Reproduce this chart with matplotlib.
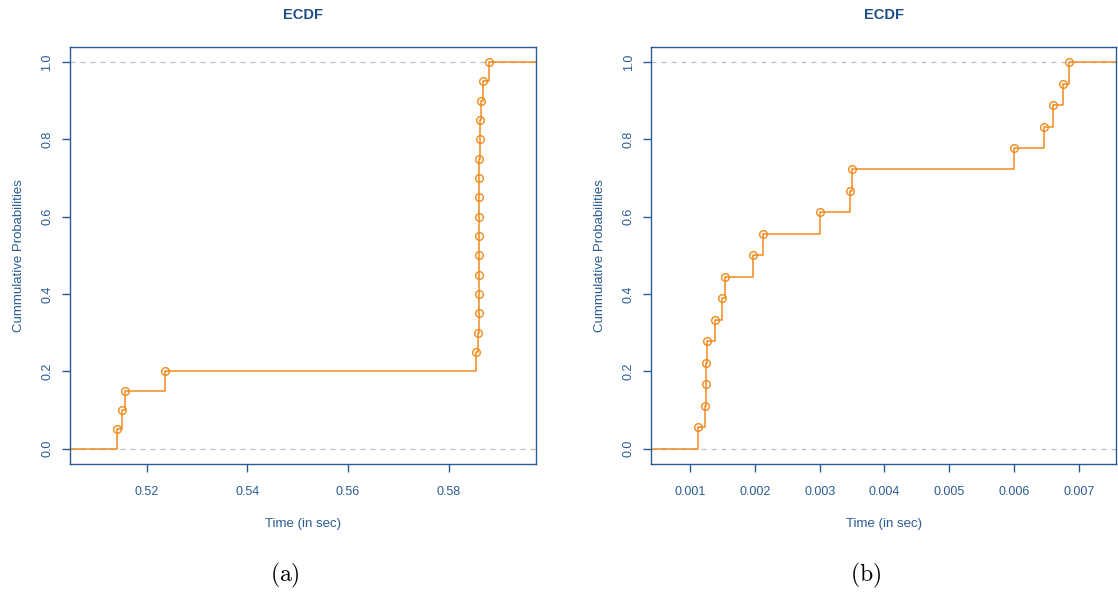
import numpy as np
import matplotlib.pyplot as plt

plt.rcParams['font.family'] = ['Liberation Sans', 'DejaVu Sans']
plt.rcParams['mathtext.fontset'] = 'cm'

# (a) observed times in seconds, 20 runs
times_a = [0.51405, 0.51496, 0.51556, 0.52352, 0.58551, 0.58591, 0.58595,
           0.58597, 0.58599, 0.58603, 0.58603, 0.58607, 0.58607, 0.58611,
           0.58611, 0.58617, 0.58623, 0.58637, 0.58683, 0.58802]
xticks_a = [0.52, 0.54, 0.56, 0.58]

# (b) observed times in seconds, 18 runs
times_b = [0.001126, 0.001225, 0.00124, 0.00125, 0.001255, 0.001383,
           0.001486, 0.001537, 0.001978, 0.002126, 0.003003, 0.00347,
           0.003506, 0.006, 0.006468, 0.006609, 0.006752, 0.006852]
xticks_b = [0.001, 0.002, 0.003, 0.004, 0.005, 0.006, 0.007]

yticks = [0.0, 0.2, 0.4, 0.6, 0.8, 1.0]
captions = ['(a)', '(b)']

BLUE = '#2A5B93'
DARK = '#1F4E86'
ORANGE = '#F08A1C'


def ecdf_panel(ax, data, xticks):
    x = np.sort(np.asarray(data))
    n = len(x)
    y = np.arange(1, n + 1) / n
    # range rule used by R's plot.stepfun, then 4% padding
    rx = x[-1] - x[0]
    dr = max(0.08 * rx, np.median(np.diff(x)))
    lo, hi = x[0] - dr, x[-1] + dr
    pad = 0.04 * (hi - lo)
    ax.set_xlim(lo - pad, hi + pad)
    ax.set_ylim(-0.04, 1.04)

    ax.axhline(0, color='#BBBBBB', ls=(0, (4, 4)), lw=0.9, zorder=1)
    ax.axhline(1, color='#BBBBBB', ls=(0, (4, 4)), lw=0.9, zorder=1)

    xs = np.concatenate([[lo - dr], x, [hi + dr]])
    ys = np.concatenate([[0], y, [1]])
    ax.step(xs, ys, where='post', color=ORANGE, lw=1.1, zorder=2)
    ax.plot(x, y, 'o', mfc='none', mec=ORANGE, ms=5.5, mew=1.0, zorder=3)

    ax.set_xticks(xticks)
    ax.set_xticklabels([f'{v:g}' for v in xticks])
    ax.set_yticks(yticks)
    ax.set_yticklabels([f'{v:.1f}' for v in yticks], rotation=90, va='center')
    ax.tick_params(colors=BLUE, labelcolor=BLUE, labelsize=9, length=6, width=1)
    ax.tick_params(axis='x', pad=10)
    ax.tick_params(axis='y', pad=6)
    for s in ax.spines.values():
        s.set_color(BLUE)
        s.set_linewidth(1.0)

    ax.set_title('ECDF', color=DARK, fontsize=10.5, fontweight='bold', pad=20)
    ax.set_xlabel('Time (in sec)', color=BLUE, fontsize=9.5, labelpad=14)
    ax.set_ylabel('Cummulative Probabilities', color=BLUE, fontsize=9.5, labelpad=12)


fig = plt.figure(figsize=(11.18, 5.92), dpi=100)
ax1 = fig.add_axes([0.0626, 0.2162, 0.4168, 0.7049])
ax2 = fig.add_axes([0.5827, 0.2162, 0.4155, 0.7049])
ecdf_panel(ax1, times_a, xticks_a)
ecdf_panel(ax2, times_b, xticks_b)

fig.text(285 / 1118, 1 - 575 / 592, r'$\mathrm{' + captions[0] + '}$',
         ha='center', va='center', fontsize=17)
fig.text(866 / 1118, 1 - 575 / 592, r'$\mathrm{' + captions[1] + '}$',
         ha='center', va='center', fontsize=17)

fig.savefig('out.png', dpi=100)
